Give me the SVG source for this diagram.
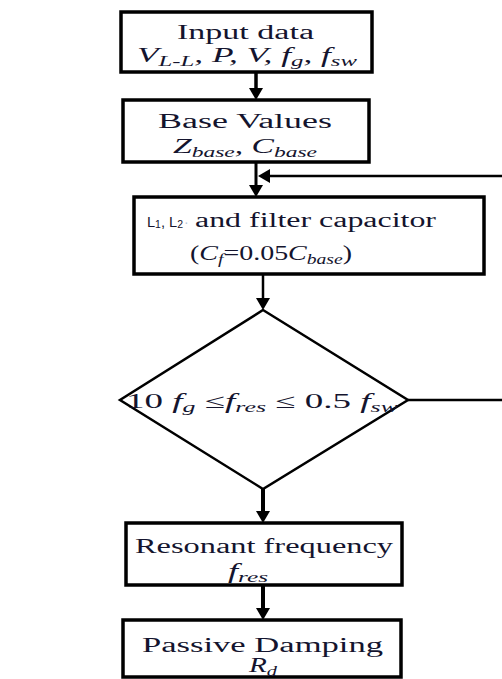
<svg xmlns="http://www.w3.org/2000/svg" width="502" height="679" viewBox="0 0 502 679">
<style>
.box{fill:#fff;stroke:#000;stroke-width:3.5}
.dia{fill:#fff;stroke:#000;stroke-width:2.5}
.t{font-family:"Liberation Serif","Times New Roman",serif;font-size:20px;fill:#14142e}
.i{font-style:italic}
.s{font-family:"Liberation Sans",Arial,sans-serif;font-size:14px;fill:#14142e}
.c{fill:none;stroke:#000}
</style>
<defs>
<marker id="ah" viewBox="0 0 12 14" refX="4" refY="7" markerWidth="12" markerHeight="14" orient="auto" markerUnits="userSpaceOnUse">
<path d="M0,0 L12,7 L0,14 z" fill="#000"/>
</marker>
</defs>
<rect width="502" height="679" fill="#fff"/>
<g id="connectors">
<line class="c" x1="256" y1="72" x2="256" y2="92" stroke-width="3.5" marker-end="url(#ah)"/>
<line class="c" x1="256" y1="162" x2="256" y2="189" stroke-width="3" marker-end="url(#ah)"/>
<line class="c" x1="502" y1="176" x2="266" y2="176" stroke-width="2.5" marker-end="url(#ah)"/>
<line class="c" x1="263" y1="274" x2="263" y2="302" stroke-width="2.5" marker-end="url(#ah)"/>
<line class="c" x1="408" y1="400" x2="502" y2="400" stroke-width="2.5"/>
<line class="c" x1="263" y1="489" x2="263" y2="515" stroke-width="4" marker-end="url(#ah)"/>
<line class="c" x1="263" y1="585" x2="263" y2="612" stroke-width="4" marker-end="url(#ah)"/>
</g>
<g id="input">
<rect class="box" x="121" y="12" width="251" height="60"/>
<text class="t" x="177" y="39" textLength="137" lengthAdjust="spacingAndGlyphs">Input data</text>
<text class="t i" x="137" y="62" textLength="220" lengthAdjust="spacingAndGlyphs">V<tspan font-size="14" dy="4">L-L</tspan><tspan dy="-4">, P, V, f</tspan><tspan font-size="14" dy="4">g</tspan><tspan dy="-4">, f</tspan><tspan font-size="14" dy="4">sw</tspan></text>
</g>
<g id="base">
<rect class="box" x="123" y="100" width="246" height="62"/>
<text class="t" x="158" y="128" textLength="174" lengthAdjust="spacingAndGlyphs">Base Values</text>
<text class="t i" x="173" y="153" textLength="144" lengthAdjust="spacingAndGlyphs">Z<tspan font-size="14" dy="4">base</tspan><tspan dy="-4">, C</tspan><tspan font-size="14" dy="4">base</tspan></text>
</g>
<g id="filter">
<rect class="box" x="134" y="197" width="350" height="77"/>
<text class="s" x="147" y="227" textLength="36" lengthAdjust="spacingAndGlyphs">L<tspan font-size="10" dy="1">1</tspan><tspan dy="-1">, L</tspan><tspan font-size="10" dy="1">2</tspan></text>
<text class="s" x="184" y="227" style="fill:#b8c8dc">·</text>
<text class="t" x="195" y="227" textLength="241" lengthAdjust="spacingAndGlyphs">and filter capacitor</text>
<text class="t" x="190" y="260" textLength="162" lengthAdjust="spacingAndGlyphs">(<tspan font-style="italic">C</tspan><tspan font-style="italic" font-size="14" dy="4">f</tspan><tspan dy="-4">=0.05</tspan><tspan font-style="italic">C</tspan><tspan font-style="italic" font-size="14" dy="4">base</tspan><tspan dy="-4">)</tspan></text>
</g>
<g id="condition">
<polygon class="dia" points="263,310 408,400 263,489 120,400"/>
<text class="t" x="126" y="408" textLength="272" lengthAdjust="spacingAndGlyphs">10 <tspan font-style="italic">f</tspan><tspan font-style="italic" font-size="14" dy="4">g</tspan><tspan dy="-4"> ≤</tspan><tspan font-style="italic">f</tspan><tspan font-style="italic" font-size="14" dy="4">res</tspan><tspan dy="-4"> ≤ 0.5 </tspan><tspan font-style="italic">f</tspan><tspan font-style="italic" font-size="14" dy="4">sw</tspan></text>
</g>
<g id="resonant">
<rect class="box" x="126" y="523" width="276" height="62"/>
<text class="t" x="135" y="553" textLength="258" lengthAdjust="spacingAndGlyphs">Resonant frequency</text>
<text class="t i" x="228" y="578" textLength="40" lengthAdjust="spacingAndGlyphs">f<tspan font-size="14" dy="4">res</tspan></text>
</g>
<g id="damping">
<rect class="box" x="123" y="620" width="278" height="57"/>
<text class="t" x="142" y="652" textLength="241" lengthAdjust="spacingAndGlyphs">Passive Damping</text>
<text class="t i" x="249" y="672" textLength="28" lengthAdjust="spacingAndGlyphs">R<tspan font-size="14" dy="4">d</tspan></text>
</g>
</svg>
